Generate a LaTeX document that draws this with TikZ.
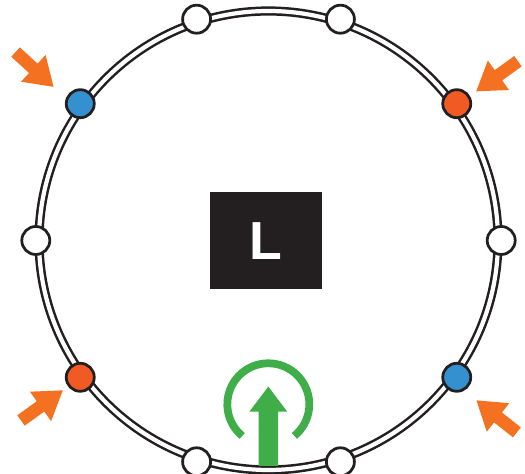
\documentclass[tikz,border=0pt]{standalone}
\usepackage{fontspec}
\setsansfont{Liberation Sans}
\usetikzlibrary{shapes.arrows}

\definecolor{ringblack}{HTML}{231F20}
\definecolor{dotblue}{HTML}{3490CE}
\definecolor{dotred}{HTML}{F15A22}
\definecolor{pointorange}{HTML}{F47121}
\definecolor{upgreen}{HTML}{3FAE49}

\tikzset{ring/.style={draw=ringblack,line width=0.05cm,double=white,double distance=0.084cm},
dot/.style={circle,draw=ringblack,line width=0.055cm,fill=white,minimum size=0.56cm,inner sep=0cm},
dot blue/.style={dot,fill=dotblue},
dot red/.style={dot,fill=dotred},
pointer/.style={single arrow,fill=pointorange,anchor=tip,inner xsep=0cm,inner ysep=0.12cm,minimum height=1.03cm,single arrow head extend=0.236cm,single arrow tip angle=67},
up arrow/.style={single arrow,fill=upgreen,anchor=tip,rotate=90,inner xsep=0cm,inner ysep=0.187cm,minimum height=1.586cm,single arrow head extend=0.183cm,single arrow tip angle=74},
label box/.style={fill=ringblack,text=white,font=\sffamily\bfseries\fontsize{30.5}{31}\selectfont,minimum width=2.24cm,minimum height=1.94cm,inner sep=0cm}}

\begin{document}
\begin{tikzpicture}
\useasboundingbox (0,0) rectangle (10.500,9.480);

%% Coordinates of nodes.
\coordinate (c) at (5.370,4.670);
\coordinate (n0) at (10.024,4.670);
\coordinate (n1) at (9.135,7.406);
\coordinate (n2) at (6.808,9.096);
\coordinate (n3) at (3.932,9.096);
\coordinate (n4) at (1.605,7.406);
\coordinate (n5) at (0.716,4.670);
\coordinate (n6) at (1.605,1.934);
\coordinate (n7) at (3.932,0.244);
\coordinate (n8) at (6.808,0.244);
\coordinate (n9) at (9.135,1.934);
\coordinate (g) at (5.366,1.394);

%% double ring
\draw [ring] (c) circle (4.590);

%% ring dots
\node [dot] (d0) at (n0) {};
\node [dot red] (d1) at (n1) {};
\node [dot] (d2) at (n2) {};
\node [dot] (d3) at (n3) {};
\node [dot blue] (d4) at (n4) {};
\node [dot] (d5) at (n5) {};
\node [dot red] (d6) at (n6) {};
\node [dot] (d7) at (n7) {};
\node [dot] (d8) at (n8) {};
\node [dot blue] (d9) at (n9) {};

%% orange pointers
\node [pointer,rotate=-42.5] (p4) at (1.080,7.734) {};
\node [pointer,rotate=215.8] (p1) at (9.514,7.646) {};
\node [pointer,rotate=35.8] (p6) at (1.266,1.680) {};
\node [pointer,rotate=141.6] (p9) at (9.520,1.480) {};

%% centre box
\node [label box] (box) at (5.319,4.660) {L};

%% green arrow and arc
\draw [upgreen,line width=0.155cm] (g) ++(-50.5:0.82) arc (-50.5:230.5:0.82);
\node [up arrow] (up) at (5.366,1.760) {};

\end{tikzpicture}
\end{document}
